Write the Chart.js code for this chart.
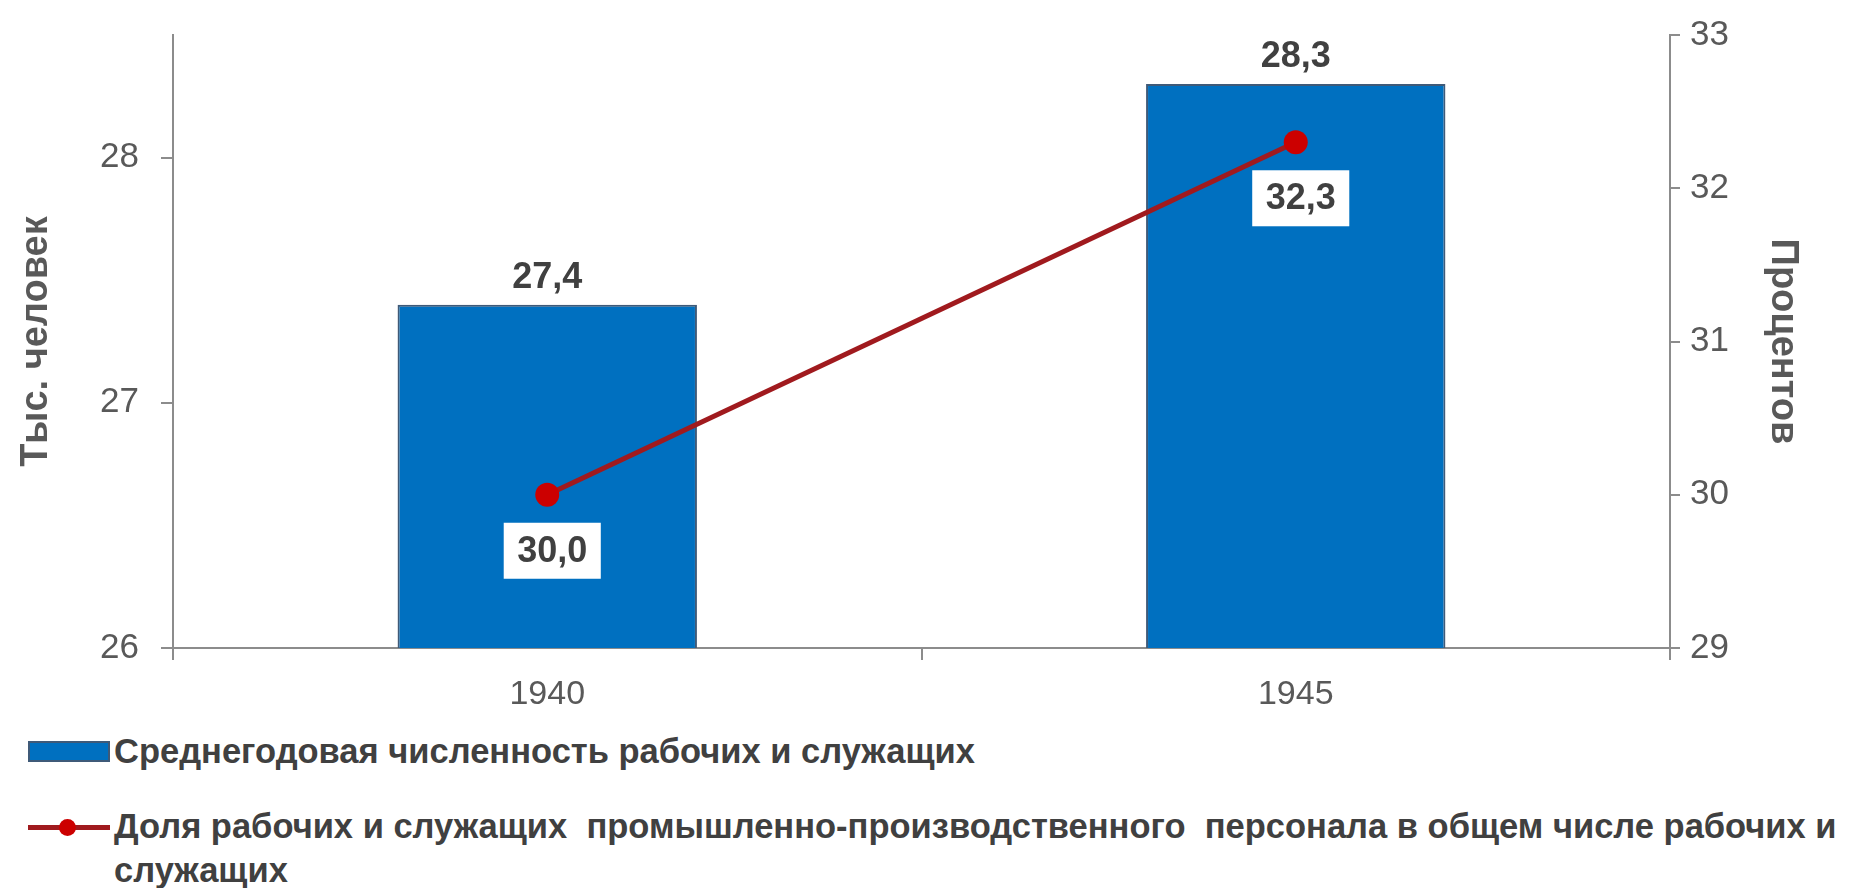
<!DOCTYPE html>
<html lang="ru">
<head>
<meta charset="utf-8">
<title>Рабочие и служащие, 1940–1945</title>
<script src="https://cdn.jsdelivr.net/npm/chart.js@4.4.1/dist/chart.umd.min.js"></script>
<style>
  html, body { margin: 0; padding: 0; background: #fff; }
  body { width: 1850px; height: 888px; position: relative; overflow: hidden; }
  #wrap { position: absolute; left: 0; top: -8px; width: 1850px; height: 723px; }
  #legend { position: absolute; left: 0; top: 0; font: bold 34.5px "Liberation Sans", Arial, sans-serif; color: #404040; }
  .item { position: absolute; left: 0; }
  .txt { position: absolute; left: 114px; top: 0; width: 1730px; line-height: 44px; white-space: pre-wrap; }
  .box { position: absolute; left: 28px; width: 82px; height: 21px; background: #0070c0; box-sizing: border-box; border: 2px solid #3f5a78; }
  .ln { position: absolute; left: 28px; width: 82px; height: 5px; background: #a01a1e; }
  .dot { position: absolute; left: 31px; top: -6px; width: 17px; height: 17px; border-radius: 50%; background: #cc0000; }
</style>
</head>
<body>
<div id="wrap"><canvas id="chart" width="1850" height="723"></canvas></div>
<div id="legend"></div>

<script>
// --- данные ---
const years = ['1940', '1945'];
const workers = [27.4, 28.3];        // тыс. человек
const share = [30.0, 32.3];          // процентов
const seriesNames = [
  'Среднегодовая численность рабочих и служащих',
  'Доля рабочих и служащих  промышленно-производственного  персонала в общем числе рабочих и служащих'
];
const leftTicks = [26, 27, 28];
const rightTicks = [29, 30, 31, 32, 33];

const Colors = {
  bar: '#0070c0',
  barBorder: '#3f5a78',
  line: '#a01a1e',
  point: '#cc0000',
  axis: '#8c8c8c',
  tick: '#595959',
  label: '#404040'
};

const FONT = '"Liberation Sans", Arial, sans-serif';

const fmt = v => v.toFixed(1).replace('.', ',');

// подписи значений: над столбцами и в белой плашке под точками
const valueLabels = {
  id: 'valueLabels',
  afterDatasetsDraw(chart) {
    const ctx = chart.ctx;
    ctx.save();
    ctx.font = 'bold 36px ' + FONT;
    ctx.textAlign = 'center';

    chart.getDatasetMeta(0).data.forEach((bar, i) => {
      ctx.fillStyle = Colors.label;
      ctx.textBaseline = 'alphabetic';
      ctx.fillText(fmt(workers[i]), bar.x, bar.y - 17);
    });

    chart.getDatasetMeta(1).data.forEach((pt, i) => {
      const text = fmt(share[i]);
      const w = ctx.measureText(text).width + 27;
      const h = 56;
      const cx = pt.x + 5;
      const top = pt.y + 28;
      ctx.fillStyle = '#ffffff';
      ctx.fillRect(cx - w / 2, top, w, h);
      ctx.fillStyle = Colors.label;
      ctx.textBaseline = 'middle';
      ctx.fillText(text, cx, top + h / 2 + 1);
    });
    ctx.restore();
  }
};

new Chart(document.getElementById('chart'), {
  type: 'bar',
  data: {
    labels: years,
    datasets: [
      {
        type: 'bar',
        label: seriesNames[0],
        data: workers,
        yAxisID: 'y',
        backgroundColor: Colors.bar,
        borderColor: Colors.barBorder,
        borderWidth: 2,
        borderSkipped: 'bottom',
        barPercentage: 0.4,
        categoryPercentage: 1,
        order: 2
      },
      {
        type: 'line',
        label: seriesNames[1],
        data: share,
        yAxisID: 'y1',
        borderColor: Colors.line,
        borderWidth: 5,
        pointRadius: 12,
        pointBackgroundColor: Colors.point,
        pointBorderColor: Colors.point,
        pointBorderWidth: 0,
        tension: 0,
        order: 1
      }
    ]
  },
  options: {
    responsive: false,
    animation: false,
    events: [],
    layout: { padding: { top: 26, left: 0, right: 0, bottom: 0 } },
    plugins: {
      legend: { display: false },
      tooltip: { enabled: false }
    },
    scales: {
      x: {
        afterFit(s) { s.height = 67; },
        grid: { drawOnChartArea: false, color: Colors.axis, lineWidth: 2, tickLength: 12, offset: true },
        border: { color: Colors.axis, width: 2 },
        ticks: { color: Colors.tick, font: { family: FONT, size: 34 }, padding: 14 }
      },
      y: {
        position: 'left',
        min: 26,
        max: 28.5,
        afterFit(s) { s.width = 173; },
        afterBuildTicks(s) { s.ticks = leftTicks.map(v => ({ value: v })); },
        grid: { drawOnChartArea: false, color: Colors.axis, lineWidth: 2, tickLength: 12 },
        border: { color: Colors.axis, width: 2 },
        ticks: { color: Colors.tick, font: { family: FONT, size: 35 }, padding: 22 },
        title: {
          display: true,
          text: 'Тыс. человек',
          color: Colors.tick,
          font: { family: FONT, size: 38, weight: 'bold' },
          padding: { top: 14, bottom: 0 }
        }
      },
      y1: {
        position: 'right',
        min: 29,
        max: 33,
        afterFit(s) { s.width = 180; },
        afterBuildTicks(s) { s.ticks = rightTicks.map(v => ({ value: v })); },
        grid: { drawOnChartArea: false, color: Colors.axis, lineWidth: 2, tickLength: 10 },
        border: { color: Colors.axis, width: 2 },
        ticks: { color: Colors.tick, font: { family: FONT, size: 35 }, padding: 10 },
        title: {
          display: true,
          text: 'Процентов',
          color: Colors.tick,
          font: { family: FONT, size: 38, weight: 'bold' },
          padding: { top: 45, bottom: 0 }
        }
      }
    }
  },
  plugins: [valueLabels]
});

// легенда
const legend = document.getElementById('legend');
legend.innerHTML = `
  <div class="item" style="top:729px">
    <span class="box" style="top:12px"></span>
    <span class="txt">${seriesNames[0]}</span>
  </div>
  <div class="item" style="top:804px">
    <span class="ln" style="top:21px"><span class="dot"></span></span>
    <span class="txt">${seriesNames[1]}</span>
  </div>
`;
</script>
</body>
</html>
